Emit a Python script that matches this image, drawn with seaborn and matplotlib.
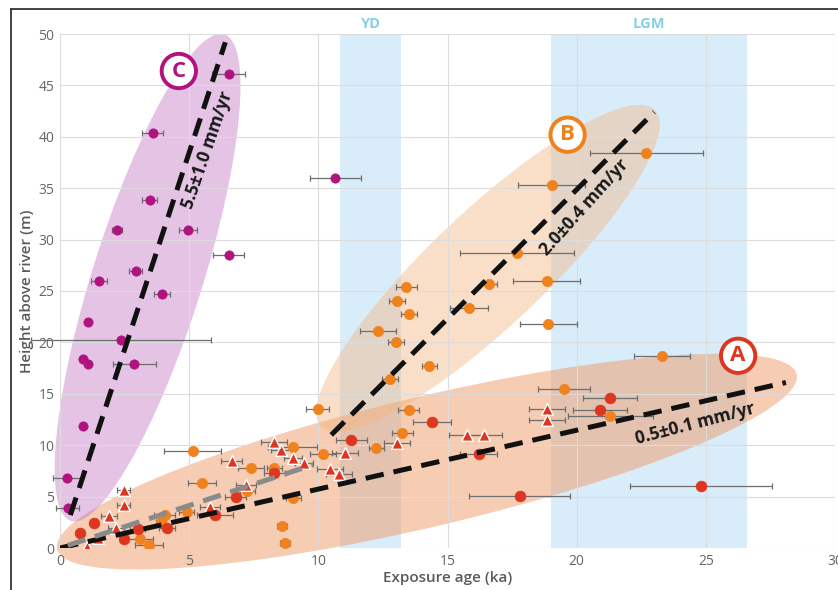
import numpy as np
import pandas as pd
import matplotlib
matplotlib.use("Agg")
import matplotlib.pyplot as plt
import seaborn as sns
from matplotlib.patches import Ellipse
from matplotlib.transforms import ScaledTranslation, blended_transform_factory
from matplotlib.lines import Line2D

# ---- exposure ages (ka), heights above river (m), 1-sigma age errors (ka) ----
mag_age = [6.53, 3.59, 10.66, 3.47, 2.20, 4.94, 6.53, 2.93, 1.51, 3.94,
           1.08, 2.36, 0.90, 1.08, 2.87, 0.90, 0.26, 0.30]
mag_height = [46.1, 40.4, 36.0, 33.9, 30.9, 30.9, 28.5, 26.9, 26.0, 24.7,
              22.0, 20.2, 18.4, 17.9, 17.9, 11.9, 6.8, 3.9]
mag_err = [0.65, 0.40, 1.00, 0.30, 0.20, 0.35, 0.60, 0.25, 0.30, 0.30,
           0.0, 3.50, 0.0, 0.0, 0.83, 0.0, 0.55, 0.45]

org_age = [22.7, 19.03, 17.7, 18.84, 16.6, 13.4, 13.05, 13.5, 12.3, 13.0,
           15.83, 14.3, 12.78, 9.97, 13.5, 18.9, 23.3, 19.5, 21.3, 13.25,
           12.25, 10.17, 9.0, 8.3, 7.4, 5.14, 5.5, 7.25, 9.03, 8.6,
           8.7, 4.9, 4.05, 3.9, 3.1, 3.45]
org_height = [38.4, 35.3, 28.7, 26.0, 25.7, 25.4, 24.0, 22.8, 21.1, 20.0,
              23.3, 17.7, 16.4, 13.5, 13.4, 21.8, 18.7, 15.5, 12.8, 11.2,
              9.7, 9.1, 9.8, 7.8, 7.8, 9.4, 6.3, 5.5, 4.9, 2.1,
              0.5, 3.5, 3.2, 2.5, 0.9, 0.3]
org_err = [2.2, 1.3, 2.2, 1.3, 0.3, 0.4, 0.3, 0.3, 0.7, 0.3,
           0.75, 0.3, 0.3, 0.45, 0.4, 1.1, 1.1, 1.0, 1.65, 0.4,
           0.3, 0.5, 0.95, 0.3, 0.5, 1.1, 0.55, 0.3, 0.3, 0.2,
           0.2, 0.3, 0.4, 0.2, 0.5, 0.55]

red_age = [21.3, 20.9, 14.4, 24.8, 17.8, 16.2, 11.27, 8.3, 6.8, 6.0,
           4.15, 3.0, 2.46, 1.3, 0.78]
red_height = [14.6, 13.4, 12.3, 6.0, 5.1, 9.1, 10.5, 7.3, 5.0, 3.2,
              1.9, 1.8, 0.9, 2.4, 1.5]
red_err = [1.05, 1.05, 0.75, 2.75, 1.95, 0.7, 0.6, 0.4, 0.4, 0.7,
           0.3, 0.3, 0.0, 0.0, 0.0]

tri_age = [18.85, 18.85, 15.75, 16.4, 13.05, 11.04, 10.46, 10.8, 9.46, 9.03,
           8.57, 8.27, 6.64, 7.2, 5.8, 2.46, 2.46, 1.9, 2.17, 1.48, 1.03]
tri_height = [13.5, 12.45, 11.0, 11.0, 10.2, 9.2, 7.7, 7.2, 8.3, 8.8,
              9.5, 10.3, 8.5, 6.1, 4.0, 5.6, 4.2, 3.1, 1.9, 1.0, 0.1]
tri_err = [0.7, 0.7, 0.7, 0.7, 0.5, 0.5, 0.5, 0.5, 0.35, 0.35,
           0.4, 0.5, 0.4, 0.4, 0.4, 0.25, 0.25, 0.3, 0.3, 0.0, 0.0]

# incision trends (start/end points)
trend_a_age, trend_a_height = [0.0, 28.1], [0.0, 16.1]
trend_b_age, trend_b_height = [10.5, 23.0], [11.0, 42.4]
trend_c_age, trend_c_height = [0.4, 6.4], [3.2, 49.2]
trend_grey_age, trend_grey_height = [0.3, 9.8], [0.25, 8.1]

# climate intervals (ka)
yd_span = [10.85, 13.2]
lgm_span = [19.0, 26.6]

x_ticks = [0, 5, 10, 15, 20, 25, 30]
y_ticks = [0, 5, 10, 15, 20, 25, 30, 35, 40, 45, 50]

MAGENTA = "#b0127f"
ORANGE = "#f0821e"
RED = "#de3520"
BAND = "#d9ecfa"

sns.set_theme(style="white")
plt.rcParams["font.family"] = ["Open Sans", "DejaVu Sans"]

W, H = 838, 590
fig = plt.figure(figsize=(W / 100, H / 100), dpi=100)
ax = fig.add_axes([60 / W, (H - 548) / H, 775 / W, 514 / H])
ax.set_xlim(0, 30)
ax.set_ylim(0, 50)
for s in ax.spines.values():
    s.set_visible(False)

# climate bands
for span in (yd_span, lgm_span):
    ax.axvspan(span[0], span[1], color=BAND, zorder=0.4, lw=0)
top = blended_transform_factory(ax.transData, ax.transAxes)
for span, name in ((yd_span, "YD"), (lgm_span, "LGM")):
    ax.text(np.mean(span), 1.02, name, transform=top, ha="center", va="center",
            color="#88cdea", fontsize=10.5, fontweight="bold")

# group envelopes: centre in data units, axes/angle in pixels
def envelope(cx, cy, length_px, width_px, angle, color, alpha):
    tr = fig.dpi_scale_trans + ScaledTranslation(cx, cy, ax.transData)
    e = Ellipse((0, 0), length_px / 100, width_px / 100, angle=angle,
                transform=tr, facecolor=color, alpha=alpha, lw=0,
                zorder=1.2, clip_on=False)
    ax.add_patch(e)

envelope(14.2, 8.4, 760, 130, 13.3, "#ee9a68", 0.50)
envelope(16.57, 27.2, 460, 115, 43.4, "#f4b47c", 0.42)
envelope(3.39, 26.3, 510, 110, 72.5, "#c57ac5", 0.45)

ax.set_axisbelow("line")
ax.grid(True, color="#dcdcdc", lw=0.8)
ax.set_xticks(x_ticks)
ax.set_yticks(y_ticks)
ax.tick_params(colors="#666666", labelsize=10, length=0, pad=4)

# trend lines
dash = (3.7, 2.0)
for xs, ys, c in [(trend_a_age, trend_a_height, "#111111"),
                  (trend_b_age, trend_b_height, "#111111"),
                  (trend_c_age, trend_c_height, "#111111"),
                  (trend_grey_age, trend_grey_height, "#8a8a8a")]:
    ax.plot(xs, ys, color=c, lw=3.6, dashes=dash, zorder=5,
            solid_capstyle="butt", dash_capstyle="butt")

# samples
groups = [
    (mag_age, mag_height, mag_err, MAGENTA, "o", 45, MAGENTA, 0.5),
    (org_age, org_height, org_err, ORANGE, "o", 55, ORANGE, 0.5),
    (red_age, red_height, red_err, RED, "o", 60, RED, 0.5),
    (tri_age, tri_height, tri_err, RED, "^", 70, "white", 1.0),
]
for xs, ys, errs, col, mk, size, ec, elw in groups:
    df = pd.DataFrame({"age": xs, "height": ys, "err": errs})
    has = df[df["err"] > 0]
    ax.errorbar(has["age"], has["height"], xerr=has["err"], fmt="none",
                ecolor="#6e6e6e", elinewidth=0.9, capsize=2.2, capthick=0.9,
                zorder=3.5, clip_on=False)
    sns.scatterplot(data=df, x="age", y="height", ax=ax, color=col, marker=mk,
                    s=size, edgecolor=ec, linewidth=elw, zorder=4, legend=False)

ax.set_xlabel("Exposure age (ka)", color="#5a5a5a", fontsize=11,
              fontweight="semibold", labelpad=2)
ax.set_ylabel("Height above river (m)", color="#5a5a5a", fontsize=11,
              fontweight="semibold", labelpad=3)

# rate labels
rate_kw = dict(ha="center", va="center", fontsize=12.5, fontweight="bold",
               color="#1a1a1a", rotation_mode="anchor", zorder=6)
ax.text(5.7, 38.7, "5.5±1.0 mm/yr", rotation=71, **rate_kw)
ax.text(20.3, 33.1, "2.0±0.4 mm/yr", rotation=48, **rate_kw)
ax.text(24.6, 12.1, "0.5±0.1 mm/yr", rotation=14.6, **rate_kw)

# group tags
for x, y, t, c in [(26.25, 18.7, "A", RED), (19.65, 40.2, "B", ORANGE),
                   (4.6, 46.4, "C", MAGENTA)]:
    ax.text(x, y, t, ha="center", va="center", fontsize=16, fontweight="bold",
            color=c, zorder=7,
            bbox=dict(boxstyle="circle,pad=0.3", fc="white", ec=c, lw=2.8))

# outer frame
fig.add_artist(Line2D([11 / W, 1], [1 - 9 / H, 1 - 9 / H], transform=fig.transFigure,
                      color="#222222", lw=1.2))
fig.add_artist(Line2D([11 / W, 11 / W], [0, 1 - 9 / H], transform=fig.transFigure,
                      color="#222222", lw=1.2))

fig.savefig("out.png", dpi=100, facecolor="white")
